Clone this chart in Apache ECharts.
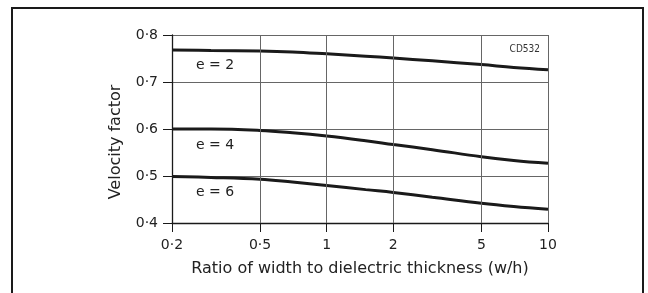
<!DOCTYPE html>
<html><head><meta charset="utf-8">
<script src="https://cdn.jsdelivr.net/npm/echarts@6/dist/echarts.min.js"></script>
<style>html,body{margin:0;padding:0;background:#fff;}#c{width:648px;height:293px;}</style>
</head><body><div id="c"></div>
<script>
const xValues = [0.2, 0.3, 0.5, 0.7, 1, 1.5, 2, 3, 5, 7, 10];
const e2 = [0.768, 0.767, 0.766, 0.764, 0.760, 0.755, 0.751, 0.745, 0.737, 0.731, 0.726];
const e4 = [0.600, 0.600, 0.597, 0.592, 0.585, 0.575, 0.567, 0.556, 0.541, 0.533, 0.527];
const e6 = [0.499, 0.497, 0.493, 0.487, 0.480, 0.471, 0.465, 0.455, 0.442, 0.435, 0.429];
const xTicks = [0.2, 0.5, 1, 2, 5, 10];
const yTicks = [0.4, 0.5, 0.6, 0.7, 0.8];
const curveNames = ['e = 2', 'e = 4', 'e = 6'];
const labelPos = [[0.313, 0.735], [0.313, 0.565], [0.313, 0.466]];
const codeText = 'CD532';
const xName = 'Ratio of width to dielectric thickness (w/h)';
const yName = 'Velocity factor';

const fmt = v => String(Math.round(v * 10) / 10).replace('.', '\u00B7');
const FONT = 'DejaVu Sans';
const chart = echarts.init(document.getElementById('c'));
const seriesData = [e2, e4, e6];
chart.setOption({
  animation: false,
  backgroundColor: '#fff',
  title: {
    text: codeText, right: 103, top: 39,
    textStyle: {fontFamily: 'DejaVu Sans Condensed, Liberation Sans, sans-serif', fontSize: 10, fontWeight: 'normal', color: '#333'}
  },
  graphic: [{
    type: 'rect', shape: {x: 12, y: 8, width: 631, height: 300},
    style: {fill: 'none', stroke: '#1a1a1a', lineWidth: 2}, silent: true, z: -1
  }],
  grid: {left: 172, right: 100, top: 35, bottom: 70},
  xAxis: {
    type: 'log', logBase: 10, min: 0.2, max: 10,
    name: xName, nameLocation: 'middle', nameGap: 38,
    nameTextStyle: {fontFamily: FONT, fontSize: 16, color: '#222'},
    axisLine: {show: true, lineStyle: {color: '#1a1a1a', width: 1.3}},
    axisTick: {show: true, length: 9, customValues: xTicks, lineStyle: {color: '#1a1a1a'}},
    axisLabel: {customValues: xTicks, formatter: fmt, margin: 15, fontFamily: FONT, fontSize: 14, color: '#222'},
    splitLine: {show: false},
    minorTick: {show: false}, minorSplitLine: {show: false}
  },
  yAxis: {
    type: 'value', min: 0.4, max: 0.8, interval: 0.1,
    name: yName, nameLocation: 'middle', nameGap: 48, nameRotate: 90,
    nameTextStyle: {fontFamily: FONT, fontSize: 16, color: '#222', padding: [0, 26, 0, 0]},
    axisLine: {show: true, lineStyle: {color: '#1a1a1a', width: 1.3}},
    axisTick: {show: true, length: 9, lineStyle: {color: '#1a1a1a'}},
    axisLabel: {formatter: fmt, margin: 14, fontFamily: FONT, fontSize: 14, color: '#222'},
    splitLine: {show: true, lineStyle: {color: '#666', width: 1}}
  },
  series: seriesData.map((d, i) => ({
    type: 'line', smooth: 0.4, symbol: 'none',
    data: xValues.map((x, j) => [x, d[j]]),
    lineStyle: {color: '#1a1a1a', width: 3},
    markPoint: {
      symbol: 'circle', symbolSize: 0,
      label: {show: true, position: 'inside', formatter: curveNames[i], fontFamily: FONT, fontSize: 14, color: '#222'},
      data: [{coord: labelPos[i]}]
    },
    markLine: i === 0 ? {
      symbol: 'none', silent: true,
      label: {show: false},
      lineStyle: {color: '#666', width: 1, type: 'solid'},
      data: xTicks.slice(1).map(v => ({xAxis: v}))
    } : undefined
  }))
});
</script></body></html>
